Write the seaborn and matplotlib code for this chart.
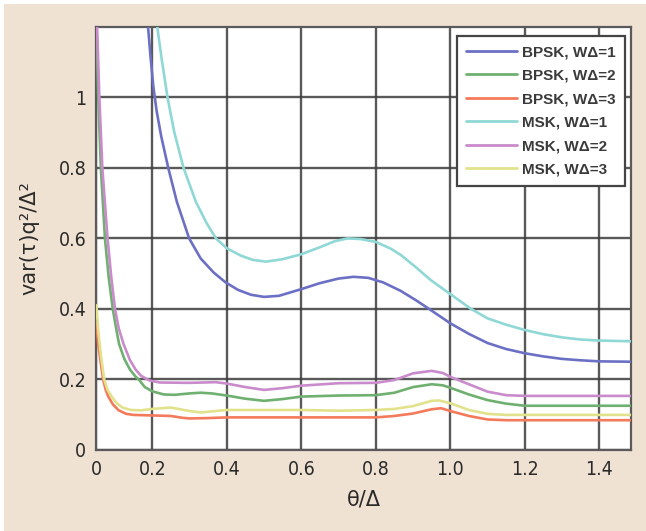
import matplotlib
matplotlib.use("Agg")
import matplotlib.pyplot as plt
from matplotlib.patches import Rectangle
import numpy as np
import pandas as pd
import seaborn as sns

# Normalised delay-estimate variance vs. offset theta/Delta
bpsk1_x = [0.180, 0.189, 0.195, 0.203, 0.212, 0.224, 0.243, 0.266, 0.299, 0.330, 0.365,
           0.397, 0.430, 0.465, 0.500, 0.540, 0.600, 0.650, 0.700, 0.740, 0.780,
           0.820, 0.867, 0.910, 0.947, 1.000, 1.050, 1.100, 1.150, 1.200, 1.250,
           1.300, 1.350, 1.400, 1.485]
bpsk1_y = [1.320, 1.196, 1.120, 1.030, 0.960, 0.890, 0.800, 0.704, 0.600, 0.543, 0.503,
           0.475, 0.454, 0.440, 0.434, 0.437, 0.456, 0.473, 0.486, 0.491, 0.488,
           0.475, 0.451, 0.423, 0.397, 0.359, 0.329, 0.303, 0.286, 0.274, 0.265,
           0.258, 0.254, 0.251, 0.250]

bpsk2_x = [0.047, 0.050, 0.055, 0.062, 0.073, 0.083, 0.094, 0.103, 0.111, 0.125, 0.140,
           0.155, 0.165, 0.180, 0.200, 0.231, 0.260, 0.300, 0.330, 0.360, 0.400,
           0.450, 0.500, 0.550, 0.600, 0.700, 0.800, 0.850, 0.900, 0.950, 0.980,
           1.000, 1.050, 1.100, 1.150, 1.200, 1.485]
bpsk2_y = [1.300, 1.200, 1.000, 0.800, 0.600, 0.490, 0.400, 0.345, 0.300, 0.258, 0.228,
           0.208, 0.198, 0.178, 0.166, 0.157, 0.156, 0.160, 0.162, 0.160, 0.154,
           0.145, 0.139, 0.144, 0.151, 0.154, 0.155, 0.162, 0.178, 0.186, 0.183,
           0.176, 0.157, 0.141, 0.131, 0.125, 0.125]

bpsk3_x = [0.050, 0.055, 0.062, 0.068, 0.075, 0.082, 0.095, 0.110, 0.130, 0.150, 0.250,
           0.280, 0.300, 0.350, 0.400, 0.800, 0.850, 0.900, 0.950, 0.975, 1.000,
           1.050, 1.100, 1.150, 1.485]
bpsk3_y = [0.359, 0.300, 0.245, 0.200, 0.170, 0.151, 0.128, 0.112, 0.102, 0.099, 0.096,
           0.091, 0.089, 0.090, 0.092, 0.092, 0.096, 0.103, 0.115, 0.118, 0.110,
           0.096, 0.086, 0.084, 0.084]

msk1_x = [0.205, 0.214, 0.225, 0.241, 0.259, 0.284, 0.317, 0.345, 0.371, 0.400, 0.438,
          0.470, 0.505, 0.550, 0.600, 0.650, 0.690, 0.724, 0.760, 0.800, 0.840,
          0.867, 0.910, 0.947, 1.000, 1.054, 1.100, 1.150, 1.200, 1.250, 1.300,
          1.350, 1.400, 1.485]
msk1_y = [1.320, 1.196, 1.111, 1.000, 0.902, 0.800, 0.704, 0.645, 0.600, 0.572, 0.551,
          0.539, 0.534, 0.541, 0.555, 0.575, 0.592, 0.600, 0.598, 0.590, 0.571,
          0.553, 0.516, 0.482, 0.442, 0.401, 0.373, 0.355, 0.340, 0.328, 0.319,
          0.313, 0.310, 0.308]

msk2_x = [0.049, 0.052, 0.058, 0.066, 0.080, 0.090, 0.100, 0.110, 0.123, 0.140, 0.155,
          0.170, 0.192, 0.220, 0.300, 0.370, 0.400, 0.450, 0.500, 0.550, 0.600,
          0.700, 0.800, 0.850, 0.900, 0.950, 0.980, 1.000, 1.050, 1.100, 1.150,
          1.200, 1.485]
msk2_y = [1.300, 1.200, 1.000, 0.800, 0.600, 0.490, 0.400, 0.345, 0.300, 0.255, 0.228,
          0.210, 0.197, 0.191, 0.190, 0.192, 0.188, 0.178, 0.170, 0.175, 0.182,
          0.189, 0.190, 0.198, 0.217, 0.224, 0.218, 0.207, 0.186, 0.165, 0.155,
          0.153, 0.153]

msk3_x = [0.050, 0.055, 0.062, 0.071, 0.080, 0.091, 0.105, 0.120, 0.143, 0.170, 0.200,
          0.250, 0.300, 0.330, 0.400, 0.500, 0.600, 0.700, 0.800, 0.850, 0.900,
          0.950, 0.970, 1.000, 1.050, 1.100, 1.150, 1.485]
msk3_y = [0.410, 0.340, 0.270, 0.200, 0.170, 0.151, 0.132, 0.120, 0.113, 0.112, 0.116,
          0.120, 0.110, 0.106, 0.113, 0.113, 0.113, 0.111, 0.113, 0.116, 0.124,
          0.139, 0.140, 0.132, 0.113, 0.102, 0.099, 0.099]

series_names = ["BPSK, W\u0394=1", "BPSK, W\u0394=2", "BPSK, W\u0394=3",
                "MSK, W\u0394=1", "MSK, W\u0394=2", "MSK, W\u0394=3"]
series_x = [bpsk1_x, bpsk2_x, bpsk3_x, msk1_x, msk2_x, msk3_x]
series_y = [bpsk1_y, bpsk2_y, bpsk3_y, msk1_y, msk2_y, msk3_y]
colors = ["#6c70c4", "#6fb070", "#f47a5c", "#8fd8d5", "#c98bcb", "#e2e28c"]

x_ticks = [0.049, 0.2, 0.4, 0.6, 0.8, 1.0, 1.2, 1.4]
x_tick_labels = ["0", "0.2", "0.4", "0.6", "0.8", "1.0", "1.2", "1.4"]
y_ticks = [0, 0.2, 0.4, 0.6, 0.8, 1.0]
y_tick_labels = ["0", "0.2", "0.4", "0.6", "0.8", "1"]

frames = []
for name, xs, ys in zip(series_names, series_x, series_y):
    frames.append(pd.DataFrame({"theta": xs, "var": ys, "series": name,
                                "order": np.arange(len(xs))}))
df = pd.concat(frames, ignore_index=True)

sns.set_theme(style="white")
plt.rcParams["font.family"] = ["DejaVu Sans"]

beige = "#f0e2d3"
fig = plt.figure(figsize=(6.46, 5.31), dpi=100, facecolor=beige)
fig.patches.append(Rectangle((0, 0), 4 / 646, 1, transform=fig.transFigure,
                             facecolor="white", edgecolor="none", zorder=-1))
fig.patches.append(Rectangle((0, 1 - 4 / 531), 1, 4 / 531, transform=fig.transFigure,
                             facecolor="white", edgecolor="none", zorder=-1))
ax = fig.add_axes([96 / 646, 1 - 449.8 / 531, (631 - 96) / 646, (449.8 - 27) / 531])
ax.set_facecolor("white")

sns.lineplot(data=df, x="theta", y="var", hue="series", hue_order=series_names,
             palette=colors, sort=False, estimator=None, units="series",
             linewidth=1.9, ax=ax, zorder=3)
for ln in ax.get_lines():
    ln.set_solid_joinstyle("round")

ax.set_xlim(0.049, 1.485)
ax.set_ylim(0, 1.2)
ax.set_xticks(x_ticks)
ax.set_xticklabels(x_tick_labels)
ax.set_yticks(y_ticks)
ax.set_yticklabels(y_tick_labels)
ax.grid(True, color="#3c3c3c", linewidth=1.7, alpha=0.85, zorder=1)
ax.set_axisbelow(True)
ax.tick_params(length=0, pad=7, labelsize=14, labelcolor="#2a2a2a")
for lab in ax.get_xticklabels() + ax.get_yticklabels():
    lab.set_fontstretch("condensed")
for sp in ax.spines.values():
    sp.set_color("#5a5a5a")
    sp.set_linewidth(1.6)

ax.set_xlabel("\u03b8/\u0394", fontsize=15, color="#2a2a2a", labelpad=8)
ax.set_ylabel("var(\u03c4)q\u00b2/\u0394\u00b2", fontsize=15, color="#2a2a2a", labelpad=14)

leg = ax.legend(loc="upper right", bbox_to_anchor=(1.0 - 6 / 535, 1.0 - 9 / 422.8),
                frameon=True, fancybox=False, fontsize=11,
                handlelength=3.3, handletextpad=0.35, labelspacing=0.62,
                borderpad=0.6, borderaxespad=0.0)
leg.get_frame().set_edgecolor("#444444")
leg.get_frame().set_linewidth(1.6)
leg.get_frame().set_facecolor("white")
leg.get_frame().set_alpha(1.0)
for t in leg.get_texts():
    t.set_fontfamily("Liberation Sans")
    t.set_fontweight("bold")
    t.set_color("#3a3a3a")
for h in leg.get_lines():
    h.set_linewidth(2.0)

fig.savefig("out.png", dpi=100, facecolor=beige)
